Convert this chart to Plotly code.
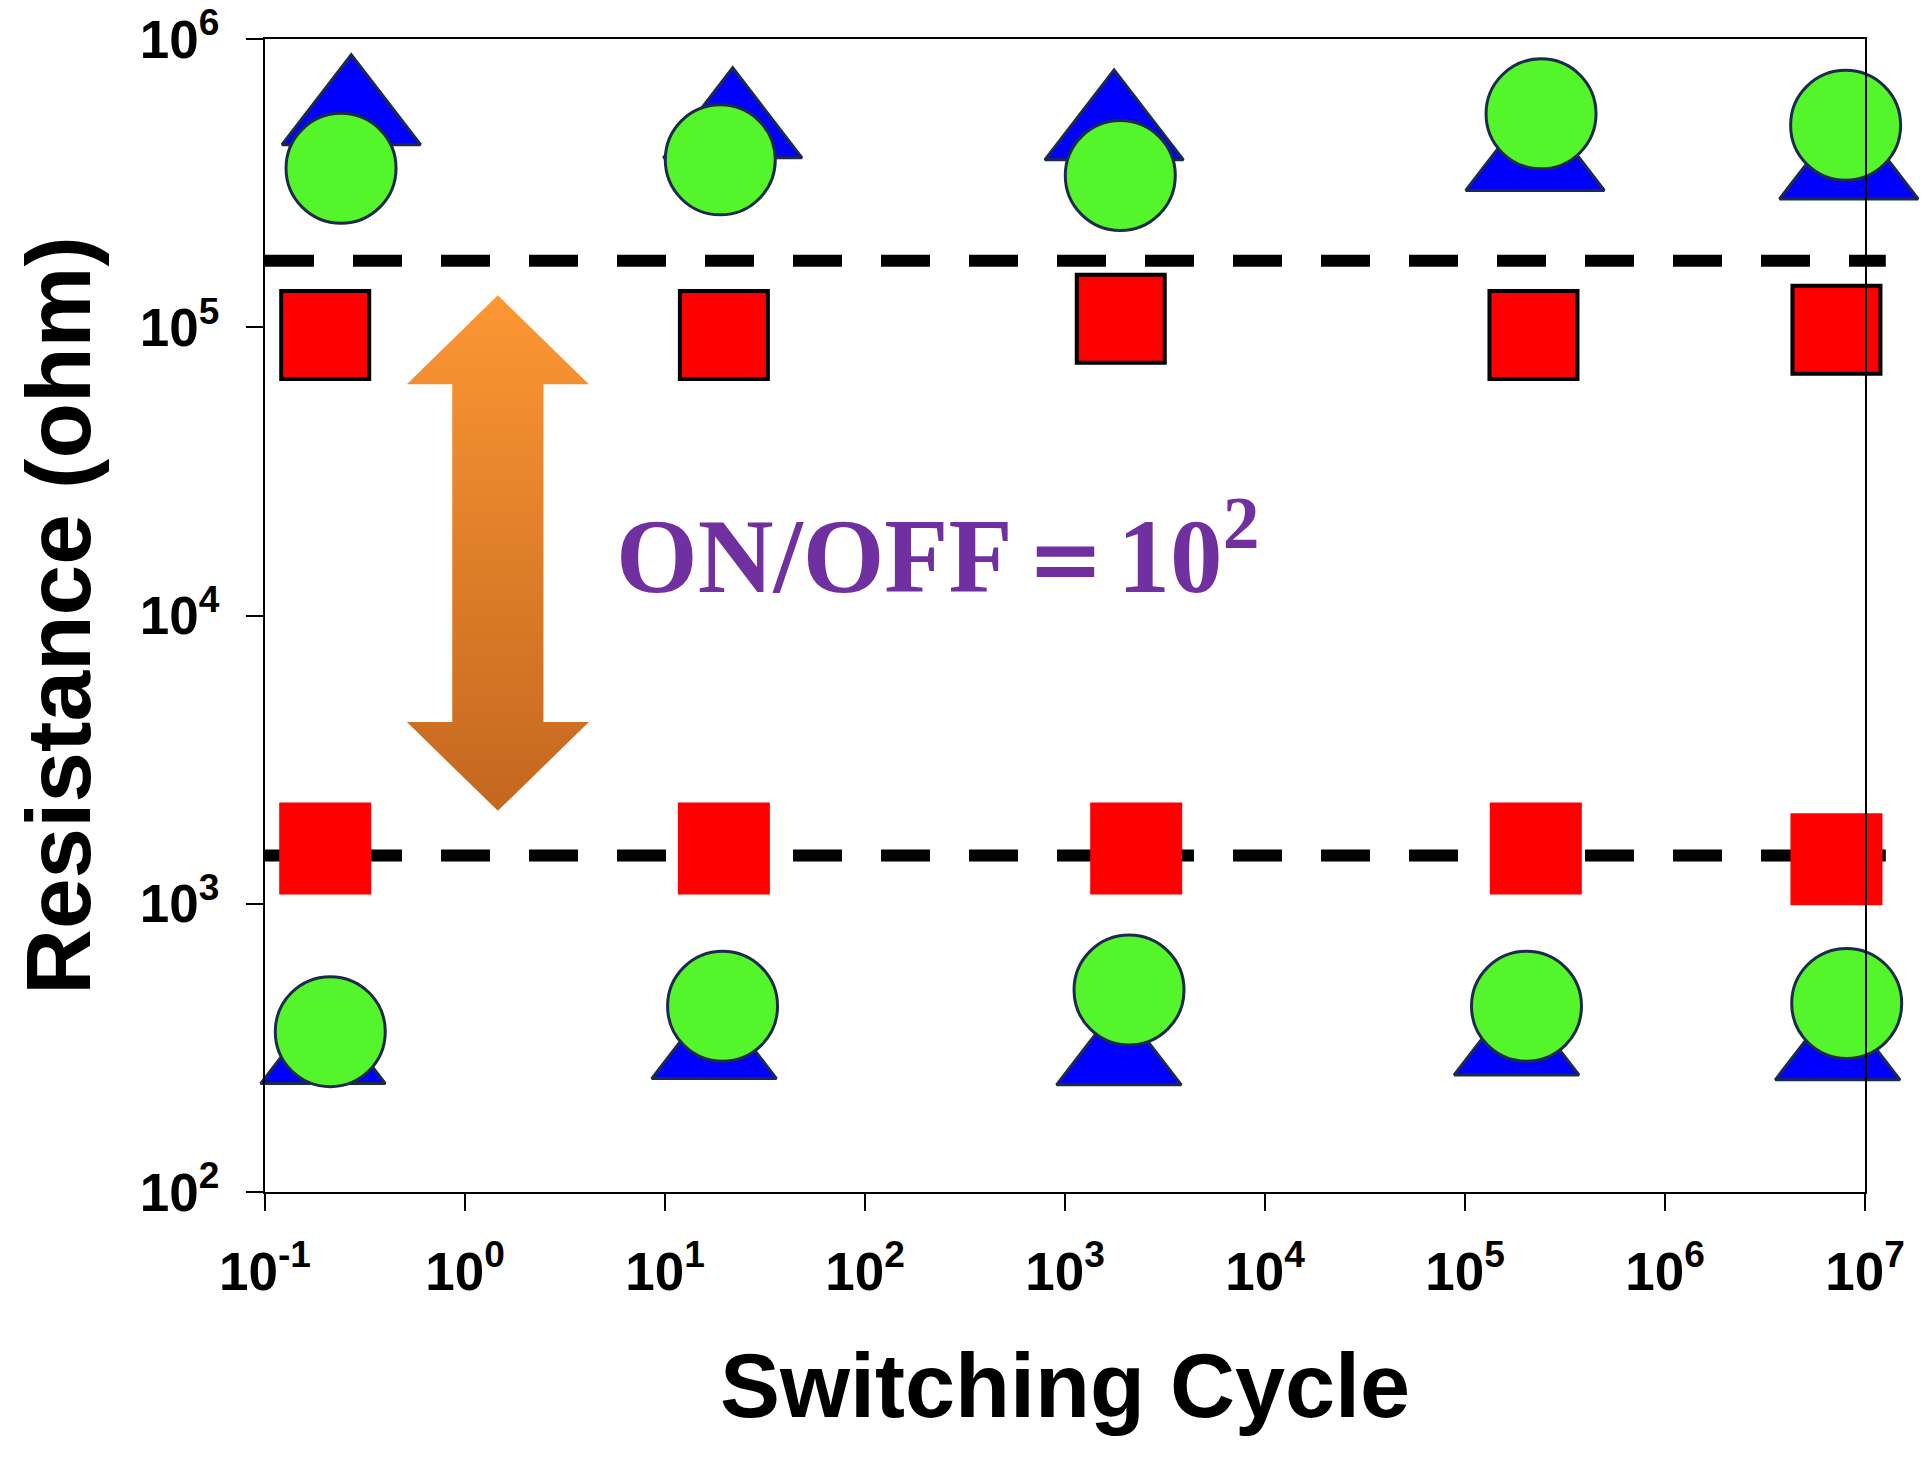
import numpy as np
import plotly.graph_objects as go

# ---------------- data ----------------
# switching cycles (x) and resistance (ohm, y) for each symbol / state
sq_hrs_x = [0.2, 19.7, 1900, 2.2e5, 7.2e6]
sq_hrs_y = [9.4e4, 9.4e4, 1.07e5, 9.4e4, 9.8e4]
sq_lrs_x = [0.2, 19.7, 2270, 2.26e5, 7.2e6]
sq_lrs_y = [1556, 1556, 1556, 1556, 1426]

ci_hrs_x = [0.24, 18.9, 1890, 2.4e5, 8.0e6]
ci_hrs_y = [3.56e5, 3.81e5, 3.36e5, 5.5e5, 5.02e5]
ci_lrs_x = [0.212, 19.4, 2090, 2.03e5, 8.1e6]
ci_lrs_y = [360, 441, 502, 441, 451]

tr_hrs_x = [0.27, 21.8, 1760, 2.24e5, 8.3e6]
tr_hrs_y = [5.46e5, 4.92e5, 4.84e5, 3.79e5, 3.54e5]
tr_lrs_x = [0.195, 17.6, 1860, 1.81e5, 7.3e6]
tr_lrs_y = [295, 307, 292, 316, 304]

hrs_level = 1.7e5
lrs_level = 1470

x_tickvals = [1e-1, 1e0, 1e1, 1e2, 1e3, 1e4, 1e5, 1e6, 1e7]
x_ticktext = ["10<sup>-1</sup>", "10<sup>0</sup>", "10<sup>1</sup>", "10<sup>2</sup>",
              "10<sup>3</sup>", "10<sup>4</sup>", "10<sup>5</sup>", "10<sup>6</sup>",
              "10<sup>7</sup>"]
y_tickvals = [1e2, 1e3, 1e4, 1e5, 1e6]
y_ticktext = ["10<sup>2</sup>", "10<sup>3</sup>", "10<sup>4</sup>", "10<sup>5</sup>",
              "10<sup>6</sup>"]

# double arrow (ON/OFF window) – centre and tips in data units
arrow_x = 1.46
arrow_top = 1.29e5
arrow_bottom = 2.1e3

# ---------------- figure ----------------
TICKFONT = dict(family="Liberation Sans Narrow, Arial Narrow, Liberation Sans, Arial",
                size=53, color="black", weight="bold")
OUTLINE = "#1c2b4c"

fig = go.Figure()

# orange double arrow built in log space around its centre
lx = np.log10(arrow_x)
lt, lb = np.log10(arrow_top), np.log10(arrow_bottom)
shaft_hw, head_hw, head_len = 0.228, 0.455, 0.308
px_ = [0, head_hw, shaft_hw, shaft_hw, head_hw, 0, -head_hw, -shaft_hw, -shaft_hw, -head_hw, 0]
py_ = [lt, lt - head_len, lt - head_len, lb + head_len, lb + head_len, lb,
       lb + head_len, lb + head_len, lt - head_len, lt - head_len, lt]
fig.add_trace(go.Scatter(
    x=10 ** (lx + np.array(px_)), y=10 ** np.array(py_),
    mode="lines", fill="toself", line=dict(width=0, color="rgba(0,0,0,0)"),
    fillcolor="#f08a2c",
    fillgradient=dict(type="vertical",
                      colorscale=[[0, "#c4671f"], [1, "#fc9734"]]),
    hoverinfo="skip", showlegend=False))

# squares
fig.add_trace(go.Scatter(x=sq_hrs_x, y=sq_hrs_y, mode="markers", cliponaxis=False,
                         marker=dict(symbol="square", size=88, color="#ff0000",
                                     line=dict(color="black", width=4)),
                         showlegend=False))
fig.add_trace(go.Scatter(x=sq_lrs_x, y=sq_lrs_y, mode="markers", cliponaxis=False,
                         marker=dict(symbol="square", size=92, color="#ff0000",
                                     line=dict(width=0)),
                         showlegend=False))
# triangles
fig.add_trace(go.Scatter(x=tr_hrs_x, y=tr_hrs_y, mode="markers", cliponaxis=False,
                         marker=dict(symbol="triangle-up", size=120, color="#0000ff",
                                     line=dict(color=OUTLINE, width=3)),
                         showlegend=False))
fig.add_trace(go.Scatter(x=tr_lrs_x, y=tr_lrs_y, mode="markers", cliponaxis=False,
                         marker=dict(symbol="triangle-up", size=108, color="#0000ff",
                                     line=dict(color=OUTLINE, width=3)),
                         showlegend=False))
# circles
fig.add_trace(go.Scatter(x=ci_hrs_x, y=ci_hrs_y, mode="markers", cliponaxis=False,
                         marker=dict(symbol="circle", size=110, color="#55f52b",
                                     line=dict(color=OUTLINE, width=3)),
                         showlegend=False))
fig.add_trace(go.Scatter(x=ci_lrs_x, y=ci_lrs_y, mode="markers", cliponaxis=False,
                         marker=dict(symbol="circle", size=110, color="#55f52b",
                                     line=dict(color=OUTLINE, width=3)),
                         showlegend=False))

# dashed reference levels
for lvl in (hrs_level, lrs_level):
    fig.add_shape(type="line", xref="paper", yref="y", x0=0, x1=1.013, y0=lvl, y1=lvl,
                  line=dict(color="black", width=12, dash="49px,39px"), layer="below")

fig.add_annotation(xref="paper", yref="paper", x=0.42, y=0.558,
                   text="ON/OFF＝10<sup>2</sup>", showarrow=False,
                   font=dict(family="Liberation Serif, Times New Roman, serif",
                             size=105, color="#7030a0", weight="bold"))

fig.update_layout(
    width=1930, height=1458,
    margin=dict(l=257, r=73, t=31, b=274),
    paper_bgcolor="white", plot_bgcolor="white",
    showlegend=False,
    xaxis=dict(type="log", range=[-1, 7], tickvals=x_tickvals, ticktext=x_ticktext,
               ticks="outside", ticklen=17, tickwidth=2, tickcolor="black",
               showline=True, linecolor="black", linewidth=2, mirror=True,
               showgrid=False, zeroline=False, tickfont=TICKFONT, automargin=False,
               ticklabelstandoff=15, ticklabeloverflow="allow",
               title=dict(text="Switching Cycle", standoff=54,
                          font=dict(family="Liberation Sans, Arial", size=90,
                                    color="black", weight="bold"))),
    yaxis=dict(type="log", range=[2, 6], tickvals=y_tickvals, ticktext=y_ticktext,
               ticks="outside", ticklen=17, tickwidth=2, tickcolor="black",
               showline=True, linecolor="black", linewidth=2, mirror=True,
               showgrid=False, zeroline=False, tickfont=TICKFONT, automargin=False,
               ticklabelstandoff=16, ticklabeloverflow="allow",
               title=dict(text="Resistance (ohm)", standoff=64,
                          font=dict(family="Liberation Sans, Arial", size=91,
                                    color="black", weight="bold"))),
)

fig.write_html("out.html")
